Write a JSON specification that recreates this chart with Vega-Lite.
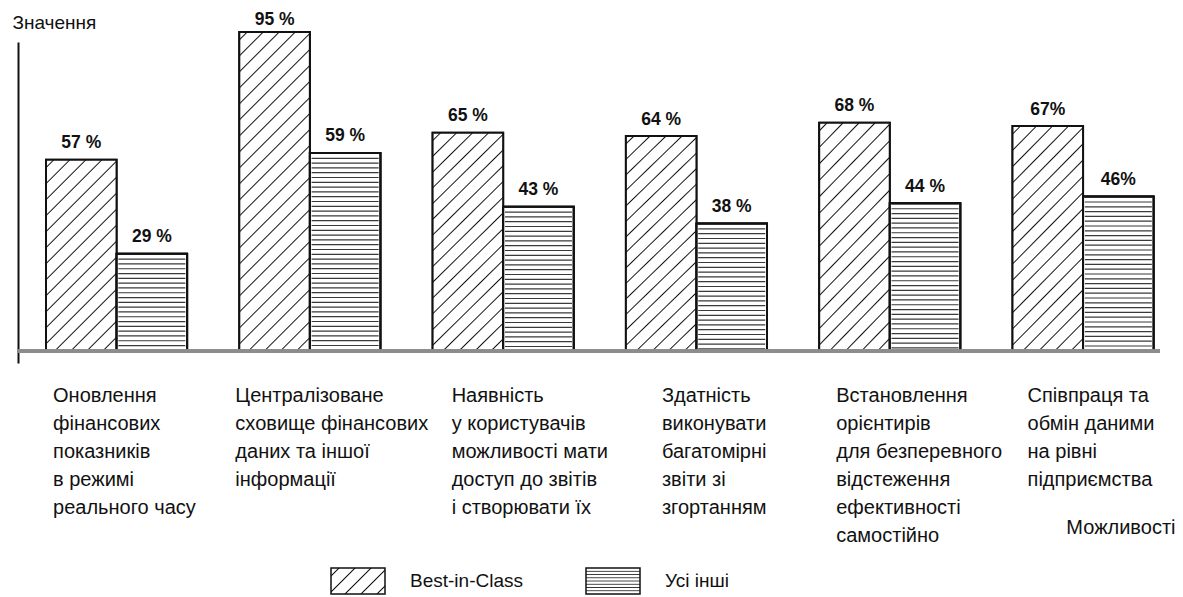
{
  "$schema": "https://vega.github.io/schema/vega-lite/v6.json",
  "width": 1142,
  "height": 321,
  "autosize": {"type": "none"},
  "padding": {"left": 18, "top": 42, "right": 23, "bottom": 234},
  "background": "#ffffff",
  "config": {"view": {"stroke": null}, "font": "Liberation Sans"},
  "data": {
    "values": [
      {"cat": "Оновлення|фінансових|показників|в режимі|реального часу", "series": "Best-in-Class", "value": 57, "label": "57 %"},
      {"cat": "Оновлення|фінансових|показників|в режимі|реального часу", "series": "Усі інші", "value": 29, "label": "29 %"},
      {"cat": "Централізоване|сховище фінансових|даних та іншої|інформації", "series": "Best-in-Class", "value": 95, "label": "95 %"},
      {"cat": "Централізоване|сховище фінансових|даних та іншої|інформації", "series": "Усі інші", "value": 59, "label": "59 %"},
      {"cat": "Наявність|у користувачів|можливості мати|доступ до звітів|і створювати їх", "series": "Best-in-Class", "value": 65, "label": "65 %"},
      {"cat": "Наявність|у користувачів|можливості мати|доступ до звітів|і створювати їх", "series": "Усі інші", "value": 43, "label": "43 %"},
      {"cat": "Здатність|виконувати|багатомірні|звіти зі|згортанням", "series": "Best-in-Class", "value": 64, "label": "64 %"},
      {"cat": "Здатність|виконувати|багатомірні|звіти зі|згортанням", "series": "Усі інші", "value": 38, "label": "38 %"},
      {"cat": "Встановлення|орієнтирів|для безперевного|відстеження|ефективності|самостійно", "series": "Best-in-Class", "value": 68, "label": "68 %"},
      {"cat": "Встановлення|орієнтирів|для безперевного|відстеження|ефективності|самостійно", "series": "Усі інші", "value": 44, "label": "44 %"},
      {"cat": "Співпраця та|обмін даними|на рівні|підприємства", "series": "Best-in-Class", "value": 67, "label": "67%"},
      {"cat": "Співпраця та|обмін даними|на рівні|підприємства", "series": "Усі інші", "value": 46, "label": "46%"}
    ]
  },
  "encoding": {
    "x": {
      "field": "cat", "type": "nominal", "sort": null,
      "scale": {"paddingInner": 0.27, "paddingOuter": 0.089, "align": 0.814},
      "axis": {
        "title": "Можливості", "domain": false, "ticks": false, "tickSize": 0,
        "labelAngle": 0, "labelAlign": "left", "labelBaseline": "alphabetic",
        "labelPadding": 38.7, "labelLineHeight": 28, "labelFontSize": 20, "labelFont": "Liberation Sans",
        "labelColor": "#111", "labelLimit": 0, "labelOverlap": false,
        "labelExpr": "split(datum.value, '|')",
        "labelOffset": {"expr": "indexof(datum.value,'Онов')===0 ? -63.5 : indexof(datum.value,'Центр')===0 ? -74.5 : indexof(datum.value,'Наяв')===0 ? -51.5 : indexof(datum.value,'Здат')===0 ? -34.5 : indexof(datum.value,'Встан')===0 ? -53.5 : -55.5"},
        "titleX": 1157, "titleY": 170, "titleAlign": "right", "titleBaseline": "alphabetic",
        "titleFontSize": 20, "titleFontWeight": "normal", "titleFont": "Liberation Sans", "titleColor": "#111"
      }
    },
    "y": {
      "field": "value", "type": "quantitative",
      "scale": {"domain": [-3.5, 92], "nice": false},
      "axis": {
        "title": "Значення", "domain": true, "domainColor": "#111", "domainWidth": 2,
        "ticks": false, "labels": false, "grid": false,
        "titleAngle": 0, "titleX": -6, "titleY": -14, "titleAlign": "left", "titleBaseline": "alphabetic",
        "titleFontSize": 19, "titleFontWeight": "normal", "titleFont": "Liberation Sans", "titleColor": "#111"
      }
    },
    "xOffset": {"field": "series", "type": "nominal"}
  },
  "layer": [
    {
      "mark": {"type": "bar", "stroke": "#111", "strokeWidth": 2},
      "encoding": {
        "fill": {
          "field": "series", "type": "nominal",
          "scale": {"range": [
            {"expr": "{gradient: 'linear', x1: 0, y1: 0, x2: 1.2027, y2: 0.5791, stops: [{offset: 0, color: '#fff'}, {offset: 0.0825, color: '#fff'}, {offset: 0.1, color: '#111'}, {offset: 0.1175, color: '#fff'}, {offset: 0.2825, color: '#fff'}, {offset: 0.3, color: '#111'}, {offset: 0.3175, color: '#fff'}, {offset: 0.4825, color: '#fff'}, {offset: 0.5, color: '#111'}, {offset: 0.5175, color: '#fff'}, {offset: 0.6825, color: '#fff'}, {offset: 0.7, color: '#111'}, {offset: 0.7175, color: '#fff'}, {offset: 0.8825, color: '#fff'}, {offset: 0.9, color: '#111'}, {offset: 0.9175, color: '#fff'}, {offset: 1, color: '#fff'}]}"},
            {"expr": "{gradient: 'linear', x1: 0, y1: 0, x2: 0, y2: 1, stops: [{offset: 0, color: '#fff'}, {offset: 0.09, color: '#fff'}, {offset: 0.125, color: '#333'}, {offset: 0.16, color: '#fff'}, {offset: 0.215, color: '#fff'}, {offset: 0.25, color: '#333'}, {offset: 0.285, color: '#fff'}, {offset: 0.34, color: '#fff'}, {offset: 0.375, color: '#333'}, {offset: 0.41, color: '#fff'}, {offset: 0.465, color: '#fff'}, {offset: 0.5, color: '#333'}, {offset: 0.535, color: '#fff'}, {offset: 0.59, color: '#fff'}, {offset: 0.625, color: '#333'}, {offset: 0.66, color: '#fff'}, {offset: 0.715, color: '#fff'}, {offset: 0.75, color: '#333'}, {offset: 0.785, color: '#fff'}, {offset: 0.84, color: '#fff'}, {offset: 0.875, color: '#333'}, {offset: 0.91, color: '#fff'}, {offset: 1, color: '#fff'}]}"}
          ]},
          "legend": {
            "title": null, "orient": "none", "direction": "horizontal",
            "legendX": 312, "legendY": 511,
            "symbolType": "M-1,-0.48H1V0.48H-1Z", "symbolSize": 2916,
            "symbolStrokeWidth": 1.5, "symbolStrokeColor": "#111", "symbolOpacity": 1,
            "labelFontSize": 19, "labelFont": "Liberation Sans", "labelColor": "#111",
            "labelOffset": 24, "columnPadding": 60
          }
        }
      }
    },
    {
      "transform": [{"filter": "datum.series === 'Best-in-Class'"}],
      "mark": {"type": "bar", "stroke": "#111", "strokeWidth": 2},
      "encoding": {
        "fill": {
          "condition": [
            {"test": "datum.value < 60", "value": {"gradient": "linear", "x1": 0, "y1": 0, "x2": 0.4436, "y2": 1.2048, "stops": [
              {"offset": 0, "color": "#fff"},
              {"offset": 0.0252, "color": "#fff"}, {"offset": 0.0305, "color": "#111"}, {"offset": 0.0359, "color": "#fff"},
              {"offset": 0.0863, "color": "#fff"}, {"offset": 0.0916, "color": "#111"}, {"offset": 0.0969, "color": "#fff"},
              {"offset": 0.1473, "color": "#fff"}, {"offset": 0.1527, "color": "#111"}, {"offset": 0.158, "color": "#fff"},
              {"offset": 0.2084, "color": "#fff"}, {"offset": 0.2137, "color": "#111"}, {"offset": 0.2191, "color": "#fff"},
              {"offset": 0.2695, "color": "#fff"}, {"offset": 0.2748, "color": "#111"}, {"offset": 0.2802, "color": "#fff"},
              {"offset": 0.3305, "color": "#fff"}, {"offset": 0.3359, "color": "#111"}, {"offset": 0.3412, "color": "#fff"},
              {"offset": 0.3916, "color": "#fff"}, {"offset": 0.397, "color": "#111"}, {"offset": 0.4023, "color": "#fff"},
              {"offset": 0.4527, "color": "#fff"}, {"offset": 0.458, "color": "#111"}, {"offset": 0.4634, "color": "#fff"},
              {"offset": 0.5137, "color": "#fff"}, {"offset": 0.5191, "color": "#111"}, {"offset": 0.5244, "color": "#fff"},
              {"offset": 0.5748, "color": "#fff"}, {"offset": 0.5802, "color": "#111"}, {"offset": 0.5855, "color": "#fff"},
              {"offset": 0.6359, "color": "#fff"}, {"offset": 0.6412, "color": "#111"}, {"offset": 0.6466, "color": "#fff"},
              {"offset": 0.697, "color": "#fff"}, {"offset": 0.7023, "color": "#111"}, {"offset": 0.7076, "color": "#fff"},
              {"offset": 0.758, "color": "#fff"}, {"offset": 0.7634, "color": "#111"}, {"offset": 0.7687, "color": "#fff"},
              {"offset": 0.8191, "color": "#fff"}, {"offset": 0.8244, "color": "#111"}, {"offset": 0.8298, "color": "#fff"},
              {"offset": 0.8802, "color": "#fff"}, {"offset": 0.8855, "color": "#111"}, {"offset": 0.8908, "color": "#fff"},
              {"offset": 0.9412, "color": "#fff"}, {"offset": 0.9466, "color": "#111"}, {"offset": 0.9519, "color": "#fff"},
              {"offset": 1, "color": "#fff"}
            ]}},
            {"test": "datum.value > 90", "value": {"gradient": "linear", "x1": 0, "y1": 0, "x2": 0.2571, "y2": 1.1641, "stops": [
              {"offset": 0, "color": "#fff"},
              {"offset": 0.0169, "color": "#fff"}, {"offset": 0.0205, "color": "#111"}, {"offset": 0.0241, "color": "#fff"},
              {"offset": 0.058, "color": "#fff"}, {"offset": 0.0616, "color": "#111"}, {"offset": 0.0652, "color": "#fff"},
              {"offset": 0.099, "color": "#fff"}, {"offset": 0.1026, "color": "#111"}, {"offset": 0.1062, "color": "#fff"},
              {"offset": 0.1401, "color": "#fff"}, {"offset": 0.1437, "color": "#111"}, {"offset": 0.1473, "color": "#fff"},
              {"offset": 0.1812, "color": "#fff"}, {"offset": 0.1848, "color": "#111"}, {"offset": 0.1884, "color": "#fff"},
              {"offset": 0.2222, "color": "#fff"}, {"offset": 0.2258, "color": "#111"}, {"offset": 0.2294, "color": "#fff"},
              {"offset": 0.2633, "color": "#fff"}, {"offset": 0.2669, "color": "#111"}, {"offset": 0.2705, "color": "#fff"},
              {"offset": 0.3043, "color": "#fff"}, {"offset": 0.3079, "color": "#111"}, {"offset": 0.3115, "color": "#fff"},
              {"offset": 0.3454, "color": "#fff"}, {"offset": 0.349, "color": "#111"}, {"offset": 0.3526, "color": "#fff"},
              {"offset": 0.3864, "color": "#fff"}, {"offset": 0.39, "color": "#111"}, {"offset": 0.3936, "color": "#fff"},
              {"offset": 0.4275, "color": "#fff"}, {"offset": 0.4311, "color": "#111"}, {"offset": 0.4347, "color": "#fff"},
              {"offset": 0.4686, "color": "#fff"}, {"offset": 0.4722, "color": "#111"}, {"offset": 0.4758, "color": "#fff"},
              {"offset": 0.5096, "color": "#fff"}, {"offset": 0.5132, "color": "#111"}, {"offset": 0.5168, "color": "#fff"},
              {"offset": 0.5507, "color": "#fff"}, {"offset": 0.5543, "color": "#111"}, {"offset": 0.5579, "color": "#fff"},
              {"offset": 0.5917, "color": "#fff"}, {"offset": 0.5953, "color": "#111"}, {"offset": 0.5989, "color": "#fff"},
              {"offset": 0.6328, "color": "#fff"}, {"offset": 0.6364, "color": "#111"}, {"offset": 0.64, "color": "#fff"},
              {"offset": 0.6738, "color": "#fff"}, {"offset": 0.6774, "color": "#111"}, {"offset": 0.681, "color": "#fff"},
              {"offset": 0.7149, "color": "#fff"}, {"offset": 0.7185, "color": "#111"}, {"offset": 0.7221, "color": "#fff"},
              {"offset": 0.756, "color": "#fff"}, {"offset": 0.7596, "color": "#111"}, {"offset": 0.7632, "color": "#fff"},
              {"offset": 0.797, "color": "#fff"}, {"offset": 0.8006, "color": "#111"}, {"offset": 0.8042, "color": "#fff"},
              {"offset": 0.8381, "color": "#fff"}, {"offset": 0.8417, "color": "#111"}, {"offset": 0.8453, "color": "#fff"},
              {"offset": 0.8791, "color": "#fff"}, {"offset": 0.8827, "color": "#111"}, {"offset": 0.8863, "color": "#fff"},
              {"offset": 0.9202, "color": "#fff"}, {"offset": 0.9238, "color": "#111"}, {"offset": 0.9274, "color": "#fff"},
              {"offset": 0.9612, "color": "#fff"}, {"offset": 0.9648, "color": "#111"}, {"offset": 0.9684, "color": "#fff"},
              {"offset": 1, "color": "#fff"}
            ]}}
          ],
          "value": {"gradient": "linear", "x1": 0, "y1": 0, "x2": 0.3801, "y2": 1.1969, "stops": [
            {"offset": 0, "color": "#fff"},
            {"offset": 0.0226, "color": "#fff"}, {"offset": 0.0274, "color": "#111"}, {"offset": 0.0322, "color": "#fff"},
            {"offset": 0.0773, "color": "#fff"}, {"offset": 0.0821, "color": "#111"}, {"offset": 0.0869, "color": "#fff"},
            {"offset": 0.132, "color": "#fff"}, {"offset": 0.1368, "color": "#111"}, {"offset": 0.1416, "color": "#fff"},
            {"offset": 0.1867, "color": "#fff"}, {"offset": 0.1915, "color": "#111"}, {"offset": 0.1963, "color": "#fff"},
            {"offset": 0.2414, "color": "#fff"}, {"offset": 0.2462, "color": "#111"}, {"offset": 0.251, "color": "#fff"},
            {"offset": 0.2961, "color": "#fff"}, {"offset": 0.3009, "color": "#111"}, {"offset": 0.3057, "color": "#fff"},
            {"offset": 0.3508, "color": "#fff"}, {"offset": 0.3556, "color": "#111"}, {"offset": 0.3604, "color": "#fff"},
            {"offset": 0.4055, "color": "#fff"}, {"offset": 0.4103, "color": "#111"}, {"offset": 0.4151, "color": "#fff"},
            {"offset": 0.4602, "color": "#fff"}, {"offset": 0.465, "color": "#111"}, {"offset": 0.4698, "color": "#fff"},
            {"offset": 0.5149, "color": "#fff"}, {"offset": 0.5197, "color": "#111"}, {"offset": 0.5245, "color": "#fff"},
            {"offset": 0.5696, "color": "#fff"}, {"offset": 0.5744, "color": "#111"}, {"offset": 0.5792, "color": "#fff"},
            {"offset": 0.6243, "color": "#fff"}, {"offset": 0.6291, "color": "#111"}, {"offset": 0.6339, "color": "#fff"},
            {"offset": 0.679, "color": "#fff"}, {"offset": 0.6838, "color": "#111"}, {"offset": 0.6886, "color": "#fff"},
            {"offset": 0.7337, "color": "#fff"}, {"offset": 0.7385, "color": "#111"}, {"offset": 0.7433, "color": "#fff"},
            {"offset": 0.7884, "color": "#fff"}, {"offset": 0.7932, "color": "#111"}, {"offset": 0.798, "color": "#fff"},
            {"offset": 0.8431, "color": "#fff"}, {"offset": 0.8479, "color": "#111"}, {"offset": 0.8527, "color": "#fff"},
            {"offset": 0.8978, "color": "#fff"}, {"offset": 0.9026, "color": "#111"}, {"offset": 0.9074, "color": "#fff"},
            {"offset": 0.9525, "color": "#fff"}, {"offset": 0.9573, "color": "#111"}, {"offset": 0.9621, "color": "#fff"},
            {"offset": 1, "color": "#fff"}
          ]}
        }
      }
    },
    {
      "transform": [{"filter": "datum.series === 'Усі інші'"}],
      "mark": {"type": "bar", "stroke": "#111", "strokeWidth": 2, "fill": "#fff"},
      "encoding": {}
    },
    {
      "transform": [{"filter": "datum.series === 'Усі інші'"}],
      "mark": {"type": "rule", "color": "#3a3a3a", "strokeWidth": 67, "strokeDash": [1.2, 3.6]},
      "encoding": {"y2": {"datum": 0}}
    },
    {
      "transform": [{"filter": "datum.series === 'Усі інші'"}],
      "mark": {"type": "bar", "stroke": "#111", "strokeWidth": 2, "fillOpacity": 0, "fill": "#fff"},
      "encoding": {}
    },
    {
      "mark": {"type": "text", "fontWeight": "bold", "fontSize": 17.5, "font": "Liberation Sans", "color": "#111", "baseline": "alphabetic", "align": "center", "dy": {"expr": "datum.value > 90 ? -6.5 : -11.5"}},
      "encoding": {"text": {"field": "label"}}
    },
    {
      "mark": {"type": "rule", "color": "#8c8c8c", "strokeWidth": 3},
      "encoding": {"y": {"datum": 0}, "x": null, "xOffset": null}
    }
  ]
}
